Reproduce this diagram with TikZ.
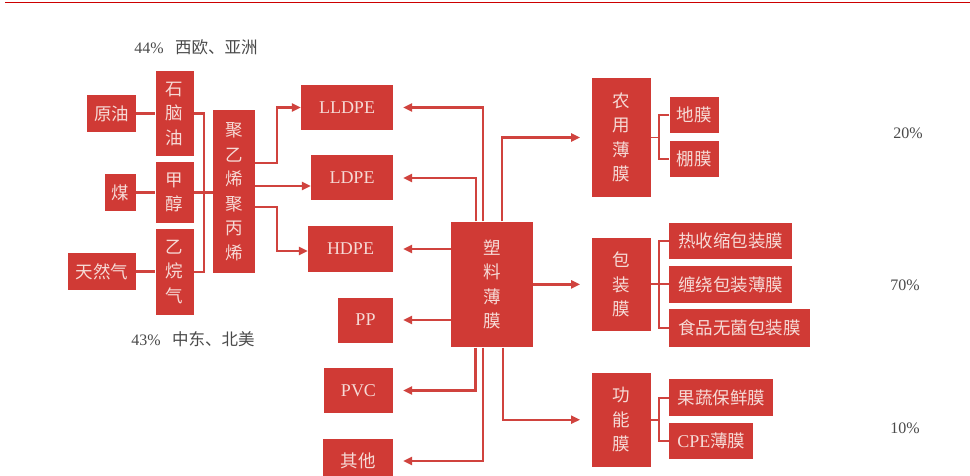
\documentclass[tikz,border=0pt]{standalone}
\usepackage{fontspec}
\setmainfont{Liberation Serif}
\newfontfamily\cjk{Noto Sans CJK SC}
\usetikzlibrary{arrows.meta}
\definecolor{boxred}{HTML}{D03A35}
\definecolor{linered}{HTML}{D0433E}
\definecolor{boxtext}{HTML}{F6DAD6}
\definecolor{toptext}{HTML}{4A4A4A}
\tikzset{
  box/.style={fill=boxred, draw=none, text=boxtext, inner sep=0pt, align=center,
    font=\cjk\fontsize{17.5}{24.5}\selectfont},
  latbox/.style={box, font=\fontsize{18}{22}\selectfont},
  conn/.style={draw=linered, line width=2.2pt},
  arr/.style={conn, -{Triangle[length=9pt,width=8pt]}},
  brk/.style={draw=linered, line width=1.9pt},
  pct/.style={text=toptext, font=\fontsize{16}{19}\selectfont, inner sep=0pt},
}
\begin{document}
\begin{tikzpicture}[x=1pt,y=-1pt]
\useasboundingbox (0,0) rectangle (970,476);
\clip (0,0) rectangle (970,476);
\fill[white] (0,0) rectangle (970,476);
\draw[draw=red!80!black, line width=1.5pt] (5,2.5) -- (970,2.5);

% texts
\node[pct] (t44) at (196,47) {44\%\hspace{0.7em}{\cjk\fontsize{16.5}{19}\selectfont 西欧、亚洲}};
\node[pct] (t43) at (193,339) {43\%\hspace{0.7em}{\cjk\fontsize{16.5}{19}\selectfont 中东、北美}};
\node[pct] (p20) at (908,133) {20\%};
\node[pct] (p70) at (905,285) {70\%};
\node[pct] (p10) at (905,428) {10\%};

% left boxes
\node[box, minimum width=49pt, minimum height=37pt] (yuanyou) at (111.5,113.5) {原油};
\node[box, minimum width=31pt, minimum height=37pt] (mei) at (120.5,192.5) {煤};
\node[box, minimum width=68pt, minimum height=37pt] (tianranqi) at (102,271.5) {天然气};
\node[box, minimum width=38pt, minimum height=85pt] (shinaoyou) at (174.5,113.5) {石\\脑\\油};
\node[box, minimum width=38pt, minimum height=61pt] (jiachun) at (174.5,192.5) {甲\\醇};
\node[box, minimum width=38pt, minimum height=86pt] (yiwanqi) at (174.5,272) {乙\\烷\\气};
\node[box, minimum width=42pt, minimum height=163pt] (juyixi) at (234,191.5) {聚\\乙\\烯\\聚\\丙\\烯};

% middle boxes
\node[latbox, minimum width=92pt, minimum height=45pt] (LLDPE) at (347,107.5) {LLDPE};
\node[latbox, minimum width=82pt, minimum height=45pt] (LDPE) at (352,178) {LDPE};
\node[latbox, minimum width=85pt, minimum height=45pt] (HDPE) at (350.5,249) {HDPE};
\node[latbox, minimum width=55pt, minimum height=45pt] (PP) at (365.5,320) {PP};
\node[latbox, minimum width=69pt, minimum height=45pt] (PVC) at (358.5,390.5) {PVC};
\node[box, minimum width=70pt, minimum height=44pt] (qita) at (358,461) {其他};
\node[box, minimum width=82pt, minimum height=125.6pt] (suliao) at (492,284.5) {塑\\料\\薄\\膜};

% right boxes
\node[box, minimum width=58.4pt, minimum height=118.4pt] (nongyong) at (621.5,137.5) {农\\用\\薄\\膜};
\node[box, minimum width=49pt, minimum height=36pt] (dimo) at (694,115.3) {地膜};
\node[box, minimum width=49pt, minimum height=36.6pt] (pengmo) at (694,159) {棚膜};
\node[box, minimum width=58.4pt, minimum height=93.3pt] (baozhuang) at (621.5,284.4) {包\\装\\膜};
\node[box, minimum width=122.4pt, minimum height=36.6pt] (re) at (730.5,241) {热收缩包装膜};
\node[box, minimum width=122.4pt, minimum height=36.7pt] (chan) at (730.5,284.4) {缠绕包装薄膜};
\node[box, minimum width=140.7pt, minimum height=37.4pt] (shipin) at (739.6,328) {食品无菌包装膜};
\node[box, minimum width=58.4pt, minimum height=94pt] (gongneng) at (621.5,419.7) {功\\能\\膜};
\node[box, minimum width=104pt, minimum height=36.7pt] (guoshu) at (721.3,397.7) {果蔬保鲜膜};
\node[box, minimum width=84pt, minimum height=36.6pt] (CPE) at (711.3,441) {{\rmfamily\fontsize{18}{22}\selectfont CPE}薄膜};

% left connectors
\draw[conn] (yuanyou.east) -- (shinaoyou.west |- yuanyou.east);
\draw[conn] (mei.east) -- (jiachun.west |- mei.east);
\draw[conn] (tianranqi.east) -- (yiwanqi.west |- tianranqi.east);
\coordinate (lb) at ([xshift=10pt]shinaoyou.east);
\draw[conn] (shinaoyou.east) -- (lb) |- (yiwanqi.east);
\draw[conn] (jiachun.east) -- (jiachun.east -| juyixi.west);

% juyixi to PE boxes
\draw[arr] ([yshift=28.2pt]juyixi.east) -- ++(22,0) |- (LLDPE.west);
\draw[arr] (juyixi.east |- 0,186) -- (LDPE.west |- 0,186);
\draw[arr] ([yshift=-15.5pt]juyixi.east) -- ++(22,0) |- ([yshift=-2pt]HDPE.west);

% suliao to left boxes
\draw[arr] ([xshift=-8.7pt]suliao.north) |- ([xshift=10pt]LLDPE.east);
\draw[arr] ([xshift=-16pt]suliao.north) |- ([xshift=10pt]LDPE.east);
\draw[arr] (suliao.west |- HDPE.east) -- ([xshift=10pt]HDPE.east);
\draw[arr] (suliao.west |- PP.east) -- ([xshift=10pt]PP.east);
\draw[arr] ([xshift=-16.5pt]suliao.south) |- ([xshift=10pt]PVC.east);
\draw[arr] ([xshift=-8.7pt]suliao.south) |- ([xshift=10pt]qita.east);

% suliao to right boxes
\draw[arr] ([xshift=9.7pt]suliao.north) |- ([xshift=-12pt]nongyong.west);
\draw[arr] (suliao.east |- baozhuang.west) -- ([xshift=-12pt]baozhuang.west);
\draw[arr] ([xshift=11pt]suliao.south) |- ([xshift=-12pt]gongneng.west);

% brackets
\coordinate (bn) at ([xshift=-10pt]dimo.west);
\draw[brk] (dimo.west) -- (bn) |- (pengmo.west);
\draw[brk] (nongyong.east) -- (nongyong.east -| bn);
\coordinate (bb) at ([xshift=-10pt]re.west);
\draw[brk] (re.west) -- (bb) |- (shipin.west);
\draw[brk] (chan.west) -- (chan.west -| bb);
\draw[brk] (baozhuang.east) -- (baozhuang.east -| bb);
\coordinate (bg) at ([xshift=-10pt]guoshu.west);
\draw[brk] (guoshu.west) -- (bg) |- (CPE.west);
\draw[brk] (gongneng.east) -- (gongneng.east -| bg);
\end{tikzpicture}
\end{document}
